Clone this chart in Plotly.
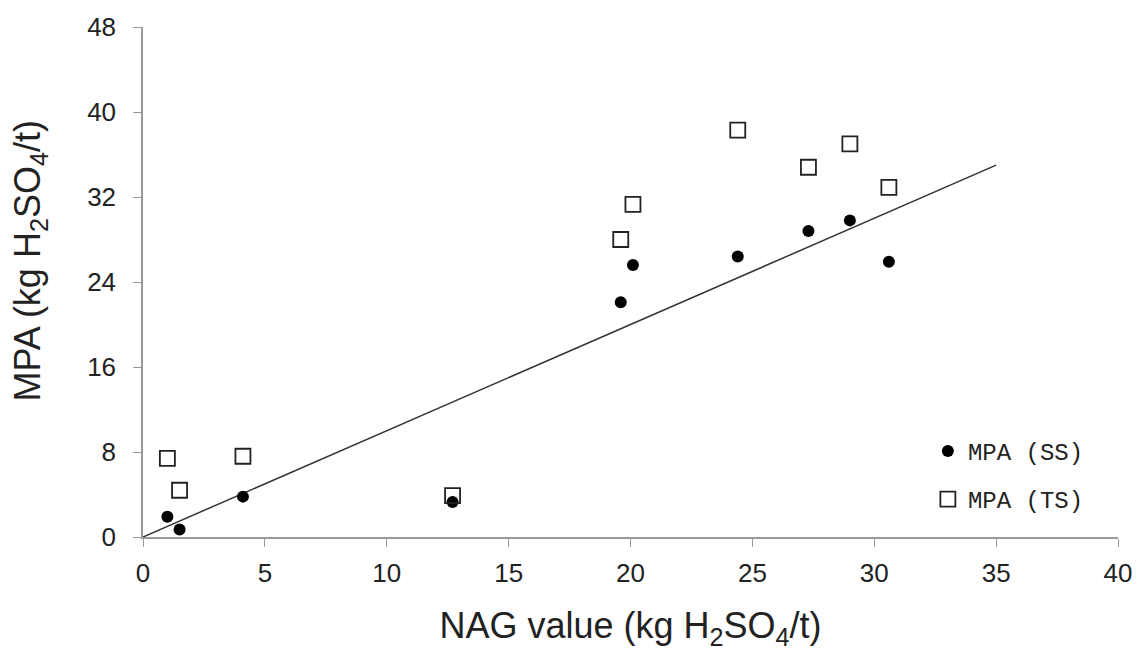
import plotly.graph_objects as go

nag = [1.0, 1.5, 4.1, 12.7, 19.6, 20.1, 24.4, 27.3, 29.0, 30.6]
mpa_ss = [1.9, 0.7, 3.8, 3.3, 22.1, 25.6, 26.4, 28.8, 29.8, 25.9]
mpa_ts = [7.4, 4.4, 7.6, 3.9, 28.0, 31.3, 38.3, 34.8, 37.0, 32.9]
line_x = [0, 35]
line_y = [0, 35]

fig = go.Figure()
fig.add_trace(go.Scatter(x=line_x, y=line_y, mode="lines",
                         line=dict(color="#333333", width=1.5), showlegend=False))
fig.add_trace(go.Scatter(x=nag, y=mpa_ss, mode="markers", name="MPA (SS)",
                         legendgroup="a",
                         marker=dict(symbol="circle", size=12, color="black")))
fig.add_trace(go.Scatter(x=nag, y=mpa_ts, mode="markers", name="MPA (TS)",
                         legendgroup="b",
                         marker=dict(symbol="square-open", size=15, color="#222222",
                                     line=dict(width=1.8))))

axis_font = dict(family="Liberation Sans, Arial", size=26, color="#222222")
title_font = dict(family="Liberation Sans, Arial", size=36, color="#222222")
fig.update_layout(
    width=1145, height=651,
    margin=dict(l=143, r=27, t=25, b=113),
    plot_bgcolor="white", paper_bgcolor="white",
    xaxis=dict(range=[0, 40], tickvals=list(range(0, 41, 5)), showgrid=False,
               zeroline=False, showline=True, linecolor="#999999", linewidth=1.5,
               ticks="outside", ticklen=8, tickcolor="#999999", tickfont=axis_font,
               ticklabelstandoff=4,
               title=dict(text="NAG value (kg H<sub>2</sub>SO<sub>4</sub>/t)",
                          font=title_font, standoff=26)),
    yaxis=dict(range=[0, 48], tickvals=list(range(0, 49, 8)), showgrid=False,
               zeroline=False, showline=True, linecolor="#999999", linewidth=1.5,
               ticks="outside", ticklen=8, tickcolor="#999999", tickfont=axis_font,
               ticklabelstandoff=12),
    annotations=[dict(text="MPA (kg H<sub>2</sub>SO<sub>4</sub>/t)", textangle=-90,
                      xref="paper", yref="paper", x=-0.116, y=0.542,
                      xanchor="center", yanchor="middle", showarrow=False,
                      font=title_font)],
    legend=dict(x=0.805, y=0.121, xanchor="left", yanchor="middle",
                font=dict(family="Liberation Mono, Courier New", size=24, color="#222222"),
                tracegroupgap=14, itemwidth=30, bgcolor="rgba(0,0,0,0)"),
)

fig.write_html("out.html")
